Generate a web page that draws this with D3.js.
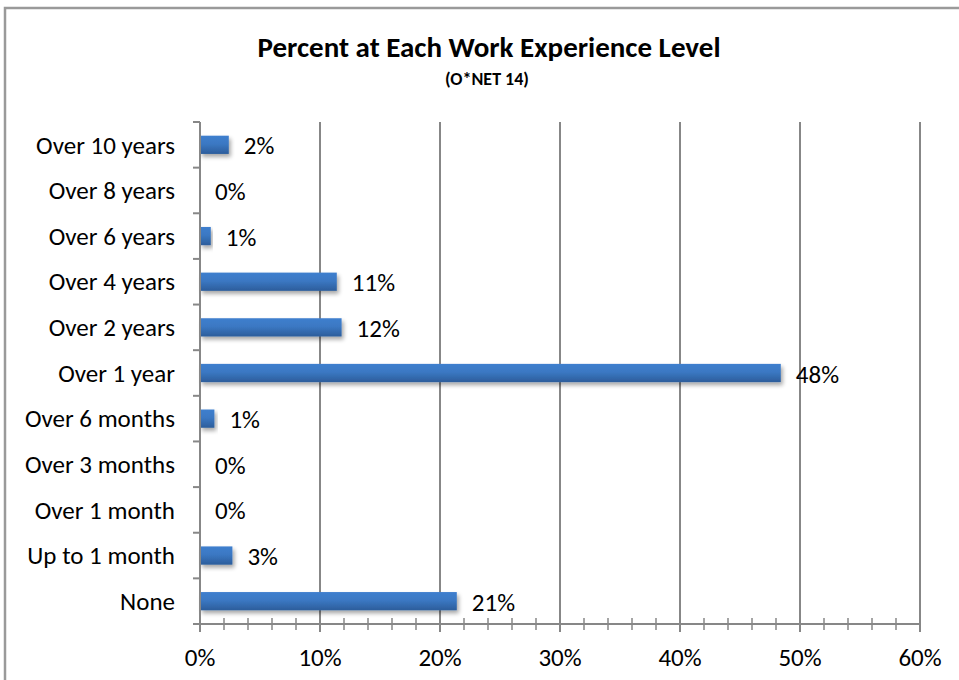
<!DOCTYPE html>
<html>
<head>
<meta charset="utf-8">
<script src="https://cdn.jsdelivr.net/npm/d3@7"></script>
<style>
  html, body { margin: 0; padding: 0; background: #fff; }
  svg { display: block; }
  text { font-family: Calibri, Carlito, Lato, "Noto Sans", sans-serif; fill: #000; }
</style>
</head>
<body>
<svg id="chart" width="959" height="680"></svg>
<script>
// ---- data ----
const categories = ["Over 10 years", "Over 8 years", "Over 6 years", "Over 4 years", "Over 2 years",
  "Over 1 year", "Over 6 months", "Over 3 months", "Over 1 month", "Up to 1 month", "None"];
const values = [2.4, 0, 0.9, 11.4, 11.8, 48.4, 1.2, 0, 0, 2.7, 21.4];
const xTicks = [0, 10, 20, 30, 40, 50, 60];
const titleText = "Percent at Each Work Experience Level";
const subtitleText = "(O*NET 14)";

const svg = d3.select("#chart");
const W = 959, H = 680;
const m = { left: 200, right: 39, top: 122, bottom: 56 };

// chart border
svg.append("rect").attr("x", 5).attr("y", 8).attr("width", W + 10).attr("height", H + 10)
  .attr("fill", "#fff").attr("stroke", "#9a9a9a").attr("stroke-width", 2.5);

// defs: gradient + shadow
const defs = svg.append("defs");
const grad = defs.append("linearGradient").attr("id", "barGrad").attr("x1", 0).attr("y1", 0).attr("x2", 0).attr("y2", 1);
grad.append("stop").attr("offset", "0%").attr("stop-color", "#3f7fce");
grad.append("stop").attr("offset", "45%").attr("stop-color", "#3b78c3");
grad.append("stop").attr("offset", "100%").attr("stop-color", "#2c5d9b");
const f = defs.append("filter").attr("id", "shadow").attr("x", "-10%").attr("y", "-50%").attr("width", "130%").attr("height", "220%");
f.append("feGaussianBlur").attr("in", "SourceAlpha").attr("stdDeviation", 2);
f.append("feOffset").attr("dx", 2).attr("dy", 2.5).attr("result", "ob");
f.append("feComponentTransfer").append("feFuncA").attr("type", "linear").attr("slope", 0.35);
const fm = f.append("feMerge");
fm.append("feMergeNode");
fm.append("feMergeNode").attr("in", "SourceGraphic");

const x = d3.scaleLinear().domain([0, 60]).range([m.left, W - m.right]);
const y = d3.scaleBand().domain(categories).range([m.top, H - m.bottom]).paddingInner(0.6).paddingOuter(0.3);
const yStep = y.step();
const bandTop = c => y(c) - y.paddingOuter() * yStep; // boundary of category slot
const plotBottom = H - m.bottom;

// titles
svg.append("text").attr("x", 489).attr("y", 57).attr("text-anchor", "middle")
  .style("font-weight", "bold").style("font-size", "29px").text(titleText);
svg.append("text").attr("x", 487).attr("y", 85).attr("text-anchor", "middle")
  .style("font-weight", "bold").style("font-size", "18px").text(subtitleText);

const axisColor = "#878787";

// vertical gridlines (major)
svg.append("g").selectAll("line").data(xTicks.slice(1)).join("line")
  .attr("x1", d => x(d)).attr("x2", d => x(d))
  .attr("y1", m.top).attr("y2", plotBottom + 8)
  .attr("stroke", axisColor).attr("stroke-width", 2);

// minor ticks on x axis
const minor = d3.range(0, 61, 2).filter(v => v % 10 !== 0);
svg.append("g").selectAll("line").data(minor).join("line")
  .attr("x1", d => x(d)).attr("x2", d => x(d))
  .attr("y1", plotBottom - 6).attr("y2", plotBottom + 6)
  .attr("stroke", axisColor).attr("stroke-width", 1.5);

// x axis line
svg.append("line").attr("x1", x(0)).attr("x2", x(60)).attr("y1", plotBottom).attr("y2", plotBottom)
  .attr("stroke", axisColor).attr("stroke-width", 2);
// x=0 major tick
svg.append("line").attr("x1", x(0)).attr("x2", x(0)).attr("y1", plotBottom).attr("y2", plotBottom + 8)
  .attr("stroke", axisColor).attr("stroke-width", 2);

// x tick labels
svg.append("g").selectAll("text").data(xTicks).join("text")
  .attr("x", d => x(d)).attr("y", 666).attr("text-anchor", "middle")
  .style("font-size", "25px").text(d => d + "%");

// bars
svg.append("g").selectAll("rect").data(categories).join("rect")
  .attr("x", x(0)).attr("y", c => y(c))
  .attr("width", (c, i) => x(values[i]) - x(0)).attr("height", y.bandwidth())
  .attr("fill", "url(#barGrad)").attr("filter", "url(#shadow)")
  .style("display", (c, i) => values[i] > 0 ? null : "none");

// y axis line
svg.append("line").attr("x1", x(0)).attr("x2", x(0)).attr("y1", m.top).attr("y2", plotBottom)
  .attr("stroke", axisColor).attr("stroke-width", 2);
// y ticks at category boundaries
const bounds = categories.map(c => bandTop(c)).concat([plotBottom]);
svg.append("g").selectAll("line").data(bounds).join("line")
  .attr("x1", x(0) - 7).attr("x2", x(0)).attr("y1", d => d).attr("y2", d => d)
  .attr("stroke", axisColor).attr("stroke-width", 2);

// category labels
svg.append("g").selectAll("text").data(categories).join("text")
  .attr("x", 175).attr("y", c => y(c) + y.bandwidth() / 2).attr("dy", "0.35em")
  .attr("text-anchor", "end").style("font-size", "25px").text(c => c);

// value labels
const fmt = d3.format(".0f");
svg.append("g").selectAll("text").data(categories).join("text")
  .attr("x", (c, i) => x(values[i]) + 15).attr("y", c => y(c) + y.bandwidth() / 2).attr("dy", "0.38em")
  .style("font-size", "25px").text((c, i) => fmt(values[i]) + "%");
</script>
</body>
</html>
